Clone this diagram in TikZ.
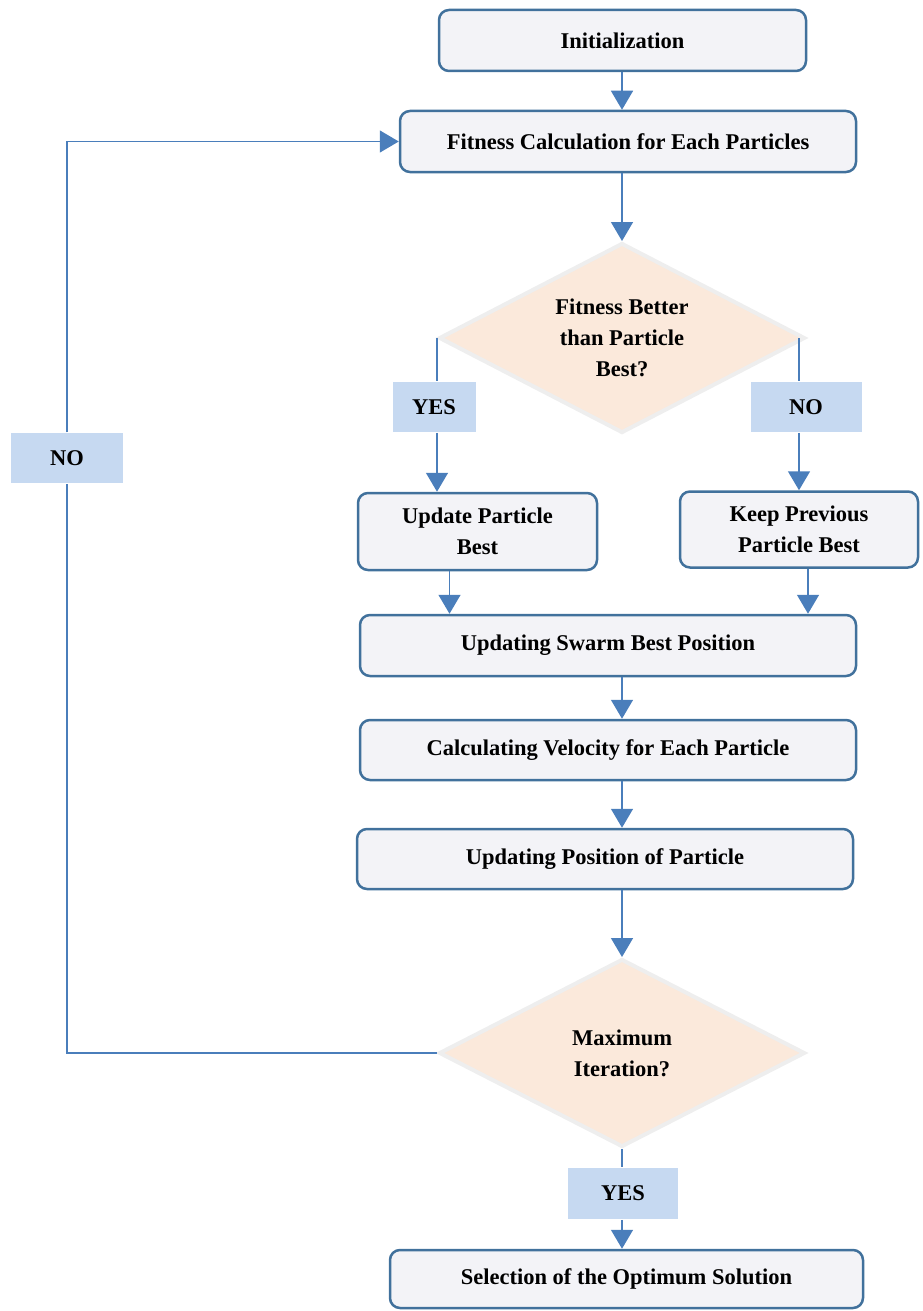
\documentclass[tikz,border=0pt]{standalone}
\usepackage{fontspec}
\setmainfont{Liberation Serif}
\usetikzlibrary{arrows.meta,shapes.geometric}

\definecolor{boxline}{HTML}{41719C}
\definecolor{arrowblue}{HTML}{4A7EBB}
\definecolor{boxfill}{HTML}{F3F3F7}
\definecolor{decfill}{HTML}{FBE9DB}
\definecolor{decline}{HTML}{EEEEEE}
\definecolor{tagfill}{HTML}{C6D9F1}

\begin{document}
\begin{tikzpicture}[x=1pt,y=-1pt,->,>={Triangle[width=22pt,length=19pt]},
                    line width=1.5pt,draw=arrowblue,
                    font=\fontsize{22.5}{31}\selectfont\bfseries]
      \tikzstyle{process}=[draw=boxline,line width=2.5pt,fill=boxfill,
                           rounded corners=10pt,align=center,inner sep=0pt]
      \tikzstyle{decision}=[diamond,draw=decline,line width=4pt,fill=decfill,
                            aspect=2,align=center,inner sep=0pt]
      \tikzstyle{answer}=[fill=tagfill,inner sep=0pt]

      \useasboundingbox (0,0) rectangle (922,1311);

      \node[process,minimum width=367pt,minimum height=61pt] (A) at (622.5,40.5) {Initialization};
      \node[process,minimum width=456pt,minimum height=61pt] (B) at (628,141.5) {Fitness Calculation for Each Particles};
      \node[decision,minimum width=366pt,minimum height=190pt] (C) at (622,338) {Fitness Better\\than Particle\\Best?};
      \node[process,minimum width=239pt,minimum height=77pt] (D) at (477.5,531.5) {Update Particle\\Best};
      \node[process,minimum width=238pt,minimum height=76pt] (E) at (799,529.5) {Keep Previous\\Particle Best};
      \node[process,minimum width=496pt,minimum height=61pt] (F) at (608,645.5) {Updating Swarm Best Position};
      \node[process,minimum width=496pt,minimum height=60pt] (G) at (608,750) {Calculating Velocity for Each Particle};
      \node[process,minimum width=496pt,minimum height=60pt] (H) at (605,859) {Updating Position of Particle};
      \node[decision,minimum width=366pt,minimum height=188pt] (I) at (622,1053) {Maximum\\Iteration?};
      \node[process,minimum width=473pt,minimum height=58pt] (J) at (626.5,1279) {Selection of the Optimum Solution};

      \node[answer,minimum width=83pt,minimum height=50pt]  (Y1) at (434,407)    {YES};
      \node[answer,minimum width=111pt,minimum height=50pt] (N1) at (806,407)    {NO};
      \node[answer,minimum width=112pt,minimum height=50pt] (N2) at (67,458)     {NO};
      \node[answer,minimum width=110pt,minimum height=51pt] (Y2) at (623,1193.5) {YES};

      \draw (A.south -| I) -- (B.north -| I);
      \draw (B.south -| I) -- (C.north);
      \draw[-] (C.west) -- (C.west |- Y1.north);
      \draw (C.west |- Y1.south) -- (C.west |- D.north);
      \draw[-] (C.east -| E) -- (N1.north -| E);
      \draw (N1.south -| E) -- (E.north);
      \draw ([xshift=-28pt]D.south) -- ([xshift=-28pt]D.south |- F.north);
      \draw ([xshift=9pt]E.south) -- ([xshift=9pt]E.south |- F.north);
      \draw (F.south -| I) -- (G.north -| I);
      \draw (G.south -| I) -- (H.north -| I);
      \draw (H.south -| I) -- (I.north);
      \draw[-] (I.west) -| (N2.south);
      \draw (N2.north) |- (B.west);
      \draw[-] (I.south) -- (Y2.north -| I);
      \draw (Y2.south -| I) -- (J.north -| I);
    \end{tikzpicture}
\end{document}
